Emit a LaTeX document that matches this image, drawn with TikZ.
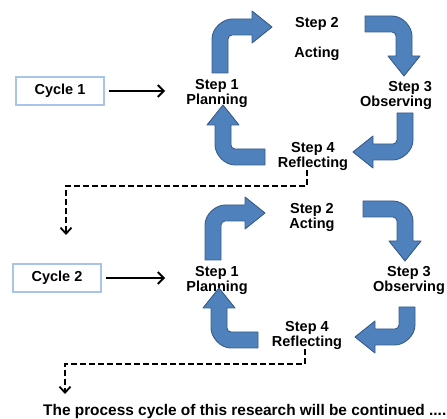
\documentclass[tikz,border=0pt]{standalone}
\usepackage{fontspec}
\setmainfont{Liberation Sans}
\usetikzlibrary{arrows.meta, positioning}

\definecolor{arrowblue}{HTML}{4F81BD}
\definecolor{arrowedge}{HTML}{385D8A}
\definecolor{boxblue}{HTML}{A7C5E6}

\tikzset{
  bent/.pic={
    \filldraw[fill=arrowblue, draw=arrowedge, line width=0.9pt, line join=round]
      (-8,#1) -- (-8,12) .. controls (-8,1) and (3,-8) .. (12,-8)
      -- (32,-8) -- (32,-16) -- (52,0) -- (32,16) -- (32,8) -- (12,8)
      .. controls (9.8,8) and (8,9.8) .. (8,12) -- (8,#1) -- cycle;
  }
}

\begin{document}
\begin{tikzpicture}[x=1pt, y=-1pt, font=\fontsize{14.5}{15}\selectfont\bfseries]

    \tikzstyle{stepnode} = [align=center, inner sep=0pt]
    \tikzstyle{cycbox} = [draw=boxblue, line width=1.8pt, minimum width=88pt, minimum height=28pt]
    \tikzstyle{arr} = [-{Straight Barb[length=6pt,width=12pt]}, line width=2pt, shorten >=21pt, shorten <=4pt]
    \tikzstyle{dashline} = [-{Straight Barb[length=6pt,width=11pt]}, line width=1.8pt, dash pattern=on 6pt off 3pt]

    \useasboundingbox (0,0) rectangle (447,419);

    % Cycle 1
    \node[cycbox] (cyc1) at (60,91) {Cycle 1};
    \node[stepnode] (p1) at (217,93) {Step 1\\Planning};
    \node[stepnode] (a1) at (317,39) {Step 2\\[15pt]Acting};
    \node[stepnode, align=right] (o1) at (396,95) {Step 3\\Observing};
    \node[stepnode] (r1) at (313,156) {Step 4\\Reflecting};

    % Cycle 2
    \node[cycbox] (cyc2) at (57,278) {Cycle 2};
    \node[stepnode] (p2) at (217,280) {Step 1\\Planning};
    \node[stepnode] (a2) at (312,217) {Step 2\\Acting};
    \node[stepnode] (o2) at (409,280) {Step 3\\Observing};
    \node[stepnode] (r2) at (307,335) {Step 4\\Reflecting};

    % Closing line
    \node[anchor=base west, inner sep=0pt, font=\fontsize{15.4}{16}\selectfont\bfseries] (cont) at (43,415.5)
        {The process cycle of this research will be continued ....};

    % Blue turning arrows, cycle 1
    \pic at (220,27) {bent=46};
    \pic[rotate=-90] at (404,24) {bent=39};
    \pic[rotate=180] at (405,152) {bent=39};
    \pic[rotate=90] at (223,157) {bent=42};

    % Blue turning arrows, cycle 2
    \pic at (213,213) {bent=47};
    \pic[rotate=-90] at (405,209) {bent=42};
    \pic[rotate=180] at (407,337) {bent=30};
    \pic[rotate=90] at (219,340) {bent=39};

    % Cycle boxes into planning
    \draw[arr] (cyc1) -- (cyc1 -| p1.west);
    \draw[arr] (cyc2) -- (cyc2 -| p2.west);

    % Dashed links to the next cycle
    \coordinate (d1) at (66,235);
    \coordinate (d2) at (65,394);
    \draw[dashline] ([xshift=-6pt]r1.south) -- ++(0,16) -| (d1);
    \draw[dashline] ([xshift=-2pt]r2.south) -- ++(0,15) -| (d2);

\end{tikzpicture}
\end{document}
